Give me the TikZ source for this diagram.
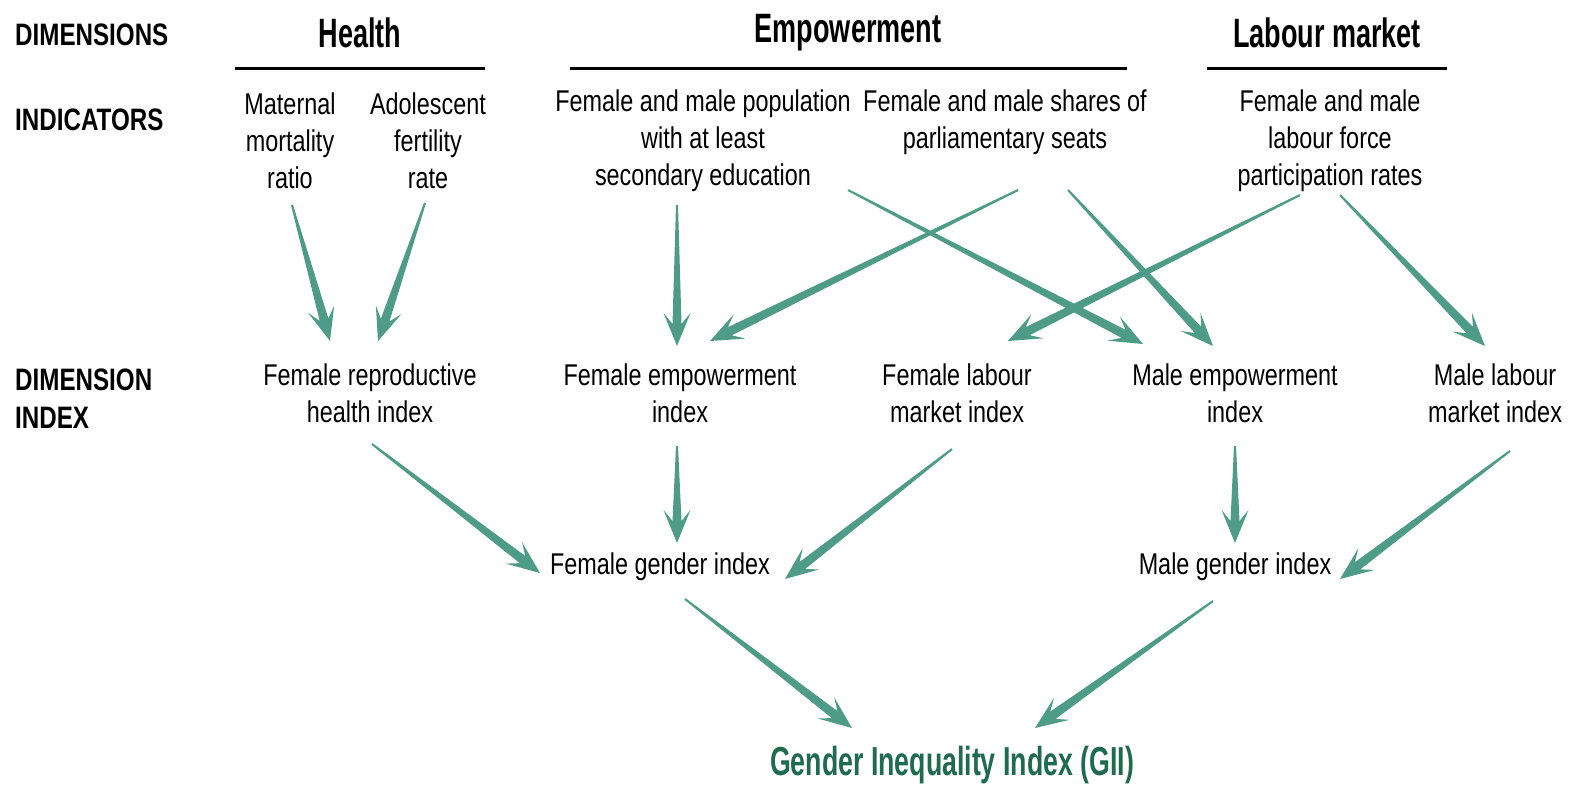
\documentclass[tikz,border=0pt]{standalone}
\usepackage{fontspec}
\setmainfont[FakeStretch=0.78]{Liberation Sans}
\newfontfamily\hdfont[FakeStretch=0.66]{Liberation Sans}
\usetikzlibrary{calc}
\definecolor{arrowcol}{HTML}{4E9C87}
\definecolor{giicol}{HTML}{1F6B50}
\newcommand\tarr[2]{%
  \path ($(#2)!22pt!(#1)$) coordinate (tN) ($(#2)!33pt!(#1)$) coordinate (tB);
  \fill[arrowcol] ($(#1)!1pt!90:(#2)$) -- ($(tN)!4.5pt!90:(#2)$) -- ($(tB)!13.5pt!90:(#2)$) -- (#2)
    -- ($(tB)!13.5pt!-90:(#2)$) -- ($(tN)!4.5pt!-90:(#2)$) -- ($(#1)!1pt!-90:(#2)$) -- cycle;}
\begin{document}
\begin{tikzpicture}[x=1pt,y=-1pt,
  txt/.style={inner sep=0pt,align=center,font=\fontsize{30}{37}\selectfont},
  rowlab/.style={inner sep=0pt,anchor=west,align=left,font=\fontsize{31}{38}\selectfont\bfseries},
  header/.style={inner sep=0pt,font=\hdfont\fontsize{41}{46}\selectfont\bfseries},
  rule/.style={line width=3pt},
  gii/.style={inner sep=0pt,text=giicol,font=\hdfont\fontsize{40.5}{46}\selectfont\bfseries}]
\useasboundingbox (0,0) rectangle (1574,789);
\fill[white] (0,0) rectangle (1574,789);
% row labels
\node[rowlab] (ldim) at (15,35) {DIMENSIONS};
\node[rowlab] (lind) at (15,120) {INDICATORS};
\node[rowlab] (ldi) at (15,399) {DIMENSION\\INDEX};
% headers
\node[header] (health) at (360,33) {Health};
\node[header] (emp) at (848,33) {Empowerment};
\node[header] (lab) at (1327,33) {Labour market};
\draw[rule] (235,69) -- (485,69);
\draw[rule] (570,69) -- (1127,69);
\draw[rule] (1207,69) -- (1447,69);
% indicators
\node[txt] (mat) at (290,141) {Maternal\\mortality\\ratio};
\node[txt] (ado) at (428,141) {Adolescent\\fertility\\rate};
\node[txt] (sec) at (703,141) {Female and male population\\with at least\\secondary education};
\node[txt] (parl) at (1005,122) {Female and male shares of\\parliamentary seats};
\node[txt] (lfp) at (1330,141) {Female and male\\labour force\\participation rates};
% dimension indices
\node[txt] (frhi) at (370,393) {Female reproductive\\health index};
\node[txt] (fei) at (680,393) {Female empowerment\\index};
\node[txt] (fli) at (957,393) {Female labour\\market index};
\node[txt] (mei) at (1235,393) {Male empowerment\\index};
\node[txt] (mli) at (1495,393) {Male labour\\market index};
% gender indices
\node[txt] (fgi) at (660,567) {Female gender index};
\node[txt] (mgi) at (1235,567) {Male gender index};
\node[gii] (gii) at (952,765) {Gender Inequality Index (GII)};
% arrows
\tarr{[shift={(2,64)}]mat.center}{[shift={(-40,-52)}]frhi.center}
\tarr{[shift={(-3,62)}]ado.center}{[shift={(8,-52)}]frhi.center}
\tarr{[shift={(-26,64)}]sec.center}{[shift={(-3,-47)}]fei.center}
\tarr{[shift={(13,68)}]parl.center}{[shift={(30,-52)}]fei.center}
\tarr{[shift={(145,49)}]sec.center}{[shift={(-92,-49)}]mei.center}
\tarr{[shift={(63,68)}]parl.center}{[shift={(-22,-47)}]mei.center}
\tarr{[shift={(-30,54)}]lfp.center}{[shift={(51,-52)}]fli.center}
\tarr{[shift={(10,54)}]lfp.center}{[shift={(-10,-47)}]mli.center}
\tarr{[shift={(2,51)}]frhi.center}{[shift={(-120,6)}]fgi.center}
\tarr{[shift={(-3,53)}]fei.center}{[shift={(17,-24)}]fgi.center}
\tarr{[shift={(-5,56)}]fli.center}{[shift={(125,12)}]fgi.center}
\tarr{[shift={(0,53)}]mei.center}{[shift={(0,-24)}]mgi.center}
\tarr{[shift={(15,58)}]mli.center}{[shift={(105,12)}]mgi.center}
\tarr{[shift={(25,32)}]fgi.center}{[shift={(-100,-37)}]gii.center}
\tarr{[shift={(-22,34)}]mgi.center}{[shift={(83,-37)}]gii.center}
\end{tikzpicture}
\end{document}
